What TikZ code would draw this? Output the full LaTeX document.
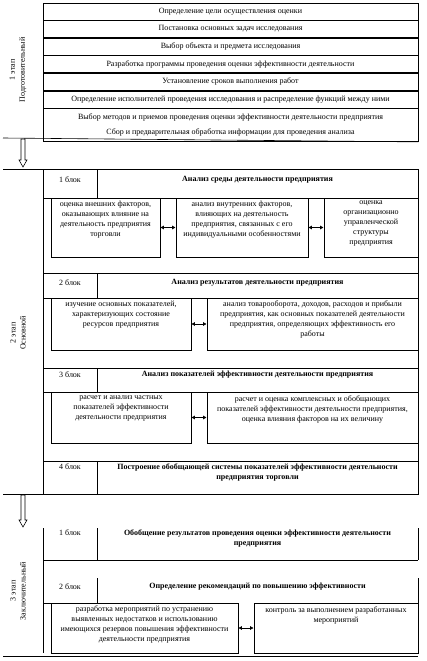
\documentclass[tikz,border=0pt]{standalone}
\usepackage{fontspec}
\setmainfont{Liberation Serif}
\usetikzlibrary{positioning,fit,arrows.meta}

\begin{document}
\begin{tikzpicture}[x=1pt,y=-1pt,font=\fontsize{8}{10}\selectfont,line width=0.6pt,
  row/.style={draw,minimum width=375pt,minimum height=17pt,inner sep=0pt,align=center},
  box/.style={draw,inner sep=0pt},
  txt/.style={inner sep=0pt,align=center,anchor=north},
  hd/.style={txt,font=\fontsize{8}{10}\selectfont\bfseries},
  lbl/.style={rotate=90,align=center,inner sep=0pt},
  dbl/.style={{Latex[length=3.5pt,width=4pt]}-{Latex[length=3.5pt,width=4pt]},line width=1pt},
  hollow/.style={draw,line width=0.6pt,fill=white}]
  \useasboundingbox (0,0) rectangle (427,661);

  % stage 1
  \node[row] (r1) at (230.5,11.5) {Определение цели осуществления оценки};
  \node[row,below=0pt of r1] (r2) {Постановка основных задач исследования};
  \node[row,below=0pt of r2] (r3) {Выбор объекта и предмета исследования};
  \node[row,below=0pt of r3] (r4) {Разработка программы проведения оценки эффективности деятельности};
  \node[row,below=0pt of r4] (r5) {Установление сроков выполнения работ};
  \node[row,below=0pt of r5] (r6) {Определение исполнителей проведения исследования и распределение функций между ними};
  \node[row,below=0pt of r6,minimum height=33pt] (r7)
    {Выбор методов и приемов проведения оценки эффективности деятельности предприятия\\[5pt]
     Сбор и предварительная обработка информации для проведения анализа};
  \draw (3,138) -- (r7.south east);
  \node[lbl] (s1) at (18,70) {1 этап\\Подготовительный};
  \coordinate (a1s) at (23,139);
  \coordinate (a1e) at (23,167);
  \draw[hollow] (a1s) ++(-2,0) -- ++(0,21) -- ++(-2,0) -- (a1e) -- ++(4,-7) -- ++(-2,0) -- ++(0,-21) -- cycle;

  % stage 2
  \draw (3,169) -- (418,169);
  \draw (43,169) -- (43,494);
  \draw (3,494) -- (418,494);
  \node[lbl] (s2) at (18,333) {2 этап\\Основной};

  % block 1
  \draw (43,169) rectangle (418,273);
  \draw (97,169) -- (97,198);
  \draw (43,198) -- (418,198);
  \node[txt] (b1l) at (70,176) {1 блок};
  \node[hd] (b1h) at (257.5,176) {Анализ среды деятельности предприятия};
  \node[box,fit={(51,198)(160,257)}] (b1a) {};
  \node[box,fit={(176,198)(308,257)}] (b1b) {};
  \node[box,fit={(324,198)(418,257)}] (b1c) {};
  \node[txt,below=3pt of b1a.north] (b1at)
    {оценка внешних факторов,\\оказывающих влияние на\\деятельность предприятия\\торговли};
  \node[txt,below=3pt of b1b.north] (b1bt)
    {анализ внутренних факторов,\\влияющих на деятельность\\предприятия, связанных с его\\индивидуальными особенностями};
  \node[txt,below=3pt of b1c.north] (b1ct)
    {оценка\\организационно\\управленческой\\структуры\\предприятия};
  \draw[dbl] (b1a) -- (b1b);
  \draw[dbl] (b1b) -- (b1c);

  % block 2
  \draw (43,273) rectangle (418,368);
  \draw (97,273) -- (97,298);
  \draw (43,298) -- (418,298);
  \node[txt] (b2l) at (70,279) {2 блок};
  \node[hd] (b2h) at (257.5,279) {Анализ результатов деятельности предприятия};
  \node[box,fit={(51,298)(191,350)}] (b2a) {};
  \node[box,fit={(207,298)(418,350)}] (b2b) {};
  \node[txt,below=3pt of b2a.north] (b2at)
    {изучение основных показателей,\\характеризующих состояние\\ресурсов предприятия};
  \node[txt,below=3pt of b2b.north] (b2bt)
    {анализ товарооборота, доходов, расходов и прибыли\\предприятия, как основных показателей деятельности\\предприятия, определяющих эффективность его\\работы};
  \draw[dbl] (b2a) -- (b2b);

  % block 3
  \draw (43,368) rectangle (418,461);
  \draw (97,368) -- (97,392);
  \draw (43,392) -- (418,392);
  \node[txt] (b3l) at (70,371) {3 блок};
  \node[hd] (b3h) at (257.5,371) {Анализ показателей эффективности деятельности предприятия};
  \node[box,fit={(51,392)(191,443)}] (b3a) {};
  \node[box,fit={(207,392)(418,443)}] (b3b) {};
  \node[txt,below=4pt of b3a.north] (b3at)
    {расчет и анализ частных\\показателей эффективности\\деятельности предприятия};
  \node[txt,below=4pt of b3b.north] (b3bt)
    {расчет и оценка комплексных и обобщающих\\показателей эффективности деятельности предприятия,\\оценка влияния факторов на их величину};
  \draw[dbl] (b3a) -- (b3b);

  % block 4
  \draw (43,461) rectangle (418,494);
  \draw (97,461) -- (97,494);
  \node[txt] (b4l) at (70,463) {4 блок};
  \node[hd] (b4h) at (257.5,463)
    {Построение обобщающей системы показателей эффективности деятельности\\предприятия торговли};
  \coordinate (a2s) at (23,495);
  \coordinate (a2e) at (23,527);
  \draw[hollow] (a2s) ++(-2,0) -- ++(0,25) -- ++(-2,0) -- (a2e) -- ++(4,-7) -- ++(-2,0) -- ++(0,-25) -- cycle;

  % stage 3
  \draw (43,528) -- (43,653);
  \draw (3,656) -- (418,656);
  \node[lbl] (s3) at (18,591) {3 этап\\Заключительный};
  \draw (97,528) -- (97,560);
  \draw (418,528) -- (418,560);
  \draw (43,560) -- (418,560);
  \node[txt] (c1l) at (70,529) {1 блок};
  \node[hd] (c1h) at (257.5,529)
    {Обобщение результатов проведения оценки эффективности деятельности\\предприятия};
  \draw (97,578) -- (97,603) -- (43,603);
  \draw (418,578) -- (418,603);
  \node[txt] (c2l) at (70,583) {2 блок};
  \node[hd] (c2h) at (257.5,583) {Определение рекомендаций по повышению эффективности};
  \node[box,fit={(51,603)(238,653)}] (c2a) {};
  \node[box,fit={(254,603)(418,653)}] (c2b) {};
  \node[txt,below=3pt of c2a.north] (c2at)
    {разработка мероприятий по устранению\\выявленных недостатков и использованию\\имеющихся резервов повышения эффективности\\деятельности предприятия};
  \node[txt,below=4pt of c2b.north] (c2bt)
    {контроль за выполнением разработанных\\мероприятий};
  \draw[dbl] (c2a) -- (c2b);
\end{tikzpicture}
\end{document}
